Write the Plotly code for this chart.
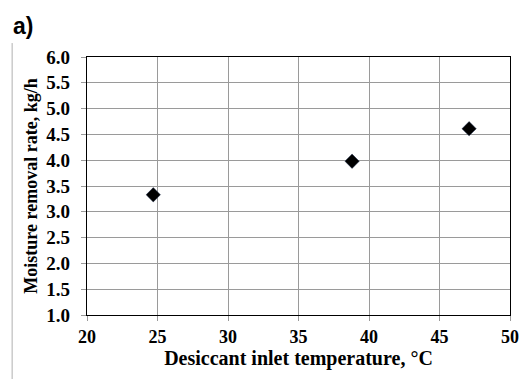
import plotly.graph_objects as go

temperature = [24.7, 38.8, 47.1]
removal_rate = [3.33, 3.98, 4.61]
x_ticks = [20, 25, 30, 35, 40, 45, 50]
y_ticks = [1.0, 1.5, 2.0, 2.5, 3.0, 3.5, 4.0, 4.5, 5.0, 5.5, 6.0]

fig = go.Figure()
fig.add_trace(go.Scatter(
    x=temperature, y=removal_rate, mode="markers",
    marker=dict(symbol="diamond", size=11, color="black",
                line=dict(color="#1a2a4a", width=0.5)),
    showlegend=False))

serif = "Liberation Serif, Times New Roman, serif"
fig.update_layout(
    width=531, height=379,
    margin=dict(l=87, r=14, t=57, b=64),
    plot_bgcolor="white", paper_bgcolor="white",
    font=dict(family=serif, color="black"),
)
fig.update_xaxes(
    range=[20, 50], tickvals=x_ticks, ticktext=[f"<b>{v}</b>" for v in x_ticks],
    showgrid=True, gridcolor="#9a9a9a", gridwidth=1,
    showline=True, linecolor="black", linewidth=1.3, mirror=True,
    ticks="outside", ticklen=5, tickcolor="#9a9a9a",
    tickfont=dict(family=serif, size=18, color="black"),
    title=dict(text="<b>Desiccant inlet temperature, °C</b>",
               font=dict(family=serif, size=20, color="black"), standoff=4),
    zeroline=False)
fig.update_yaxes(
    range=[1.0, 6.0], tickvals=y_ticks, ticktext=[f"<b>{v:.1f}</b>" for v in y_ticks],
    showgrid=True, gridcolor="#9a9a9a", gridwidth=1,
    showline=True, linecolor="black", linewidth=1.3, mirror=True,
    ticks="outside", ticklen=5, tickcolor="#9a9a9a", ticklabelstandoff=7,
    tickfont=dict(family=serif, size=19, color="black"),
    title=dict(text="<b>Moisture removal rate, kg/h</b>",
               font=dict(family=serif, size=18, color="black"), standoff=3),
    zeroline=False)

fig.add_annotation(text="<b>a)</b>", xref="paper", yref="paper",
                   x=-0.18, y=1.18, xanchor="left", yanchor="top",
                   showarrow=False,
                   font=dict(family="Liberation Sans, Arial, sans-serif", size=23, color="black"))
fig.add_shape(type="line", xref="paper", yref="paper",
              x0=-0.177, x1=-0.177, y0=1.054, y1=-0.25,
              line=dict(color="#b0b0b0", width=1))

fig.write_html("out.html", config={"displayModeBar": False},
               post_script="document.body.style.margin='0';document.body.style.overflow='hidden';")
